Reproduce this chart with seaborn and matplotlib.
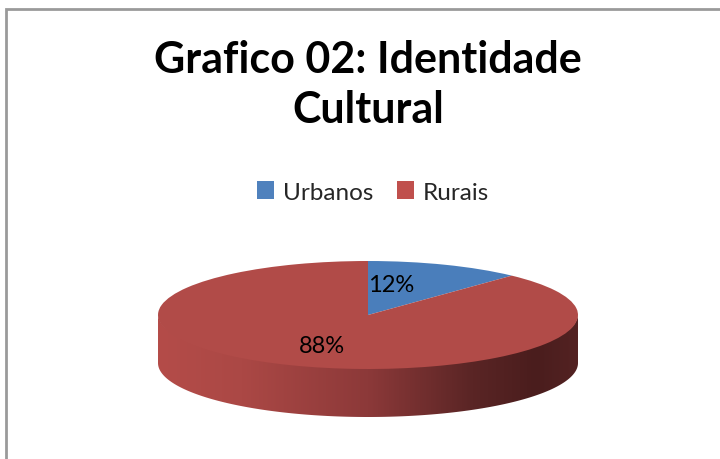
import numpy as np
import matplotlib
matplotlib.use("Agg")
import matplotlib.pyplot as plt
import seaborn as sns
from matplotlib.patches import Patch, Polygon, Rectangle
from matplotlib.colors import LinearSegmentedColormap

categorias = ["Urbanos", "Rurais"]
valores = [12, 88]
cores = ["#4A7EBB", "#B14B48"]
cores_legenda = ["#4F81BD", "#C0504D"]
titulo = "Grafico 02: Identidade\nCultural"

sns.set_theme(style="white")
plt.rcParams["font.family"] = ["Lato", "DejaVu Sans"]

W, H = 720, 460
fig = plt.figure(figsize=(W / 100, H / 100), dpi=100)
fig.patch.set_facecolor("white")

# area da pizza (pixels): face 158..578 x 262..370, lado ate 419
cx, rx = 368, 210
cy, ry = 316, 54
prof = 48 / ry
y_top, y_bot = 262, 420
ax = fig.add_axes([(cx - rx) / W, (H - y_bot) / H, 2 * rx / W, (y_bot - y_top) / H])

# lado do cilindro (3D) com gradiente
t = np.linspace(np.pi, 2 * np.pi, 200)
borda_sup = np.column_stack([np.cos(t), np.sin(t) + 0.02])
borda_inf = np.column_stack([np.cos(t[::-1]), np.sin(t[::-1]) - prof])
lado = Polygon(np.vstack([borda_sup, borda_inf]), closed=True, fc="none", ec="none")
ax.add_patch(lado)
grad_cmap = LinearSegmentedColormap.from_list(
    "lado",
    [(0.0, "#B44C49"), (0.2, "#AB4845"), (0.5, "#8C3939"),
     (0.75, "#5A2525"), (0.9, "#4A1D1D"), (1.0, "#532222")])
grad = np.linspace(0, 1, 256).reshape(1, -1)
img = ax.imshow(grad, cmap=grad_cmap, extent=[-1, 1, -1 - prof, 0.05],
                aspect="auto", zorder=0.5, interpolation="bilinear")
img.set_clip_path(lado)

# face superior
wedges, textos, autotextos = ax.pie(
    valores, colors=cores, startangle=90, counterclock=False,
    autopct="%1.0f%%", pctdistance=0.6, radius=1,
    wedgeprops={"linewidth": 0}, textprops={"fontsize": 17, "color": "black"})
autotextos[0].set_x(0.11)
ax.set_aspect("auto")
ax.set_xlim(-1, 1)
ax.set_ylim(-(y_bot - cy) / ry, (cy - y_top) / ry)
ax.axis("off")

fig.text(cx / W, 1 - 40 / H, titulo, ha="center", va="top",
         fontsize=31, fontweight="bold", linespacing=1.3, color="black")

handles = [Patch(facecolor=c, edgecolor="none") for c in cores_legenda]
fig.legend(handles, categorias, loc="center", bbox_to_anchor=(373 / W, 1 - 193 / H),
           ncol=2, frameon=False, fontsize=17.5, handlelength=0.7, handleheight=0.7,
           handletextpad=0.35, columnspacing=1.0)

fig.patches.append(Rectangle((6.5 / W, -0.05), 1.1, (H - 9.5) / H + 0.05,
                             transform=fig.transFigure, fill=False,
                             ec="#9A9A9A", lw=2))

fig.savefig("out.png", dpi=100)
